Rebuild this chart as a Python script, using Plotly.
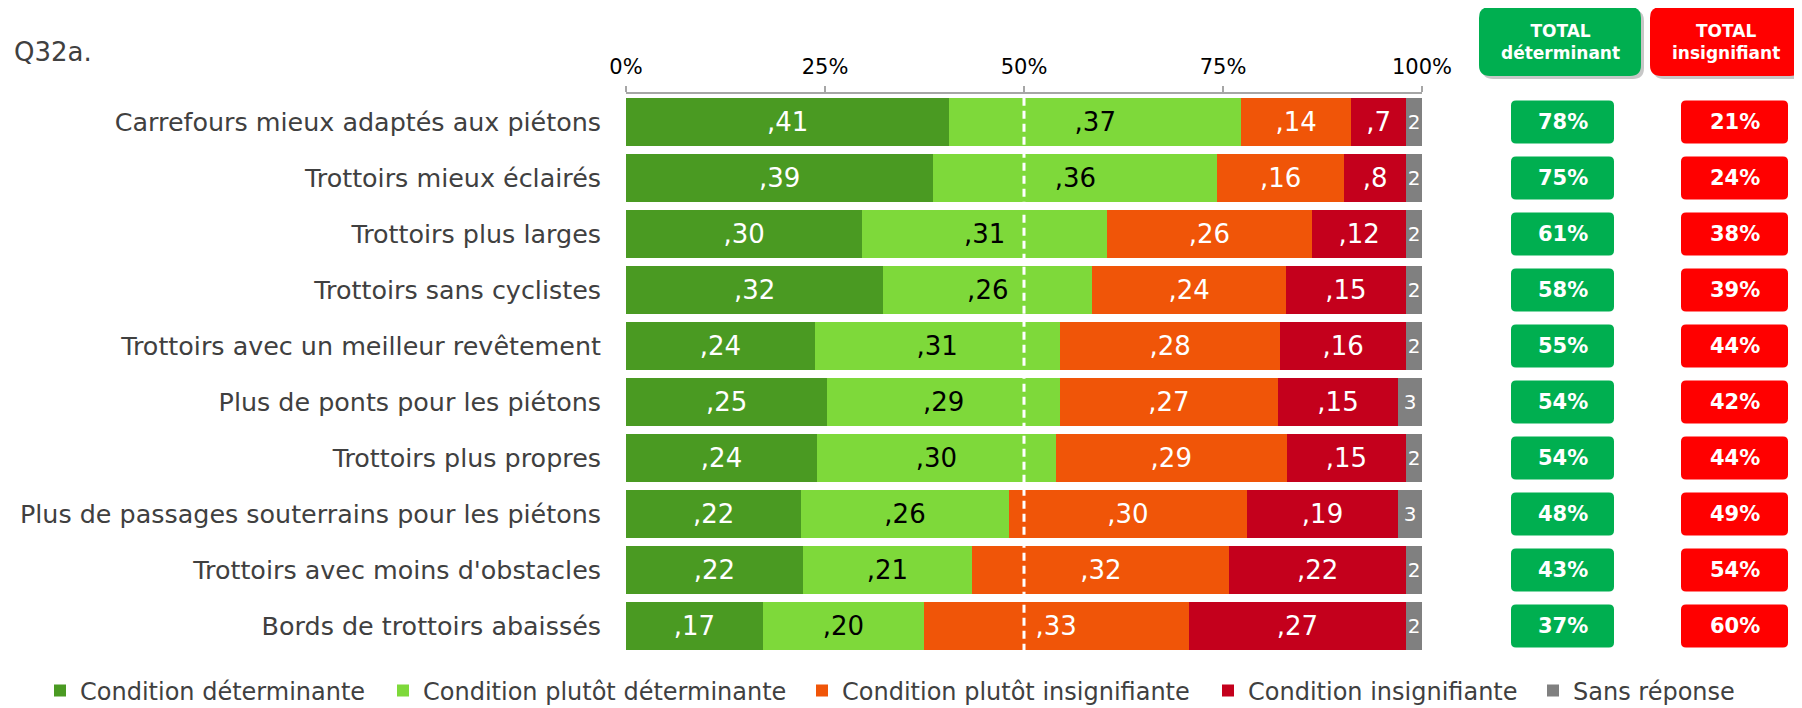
import plotly.graph_objects as go

categories = [
    "Carrefours mieux adaptés aux piétons",
    "Trottoirs mieux éclairés",
    "Trottoirs plus larges",
    "Trottoirs sans cyclistes",
    "Trottoirs avec un meilleur revêtement",
    "Plus de ponts pour les piétons",
    "Trottoirs plus propres",
    "Plus de passages souterrains pour les piétons",
    "Trottoirs avec moins d'obstacles",
    "Bords de trottoirs abaissés",
]
determinante = [40.6, 38.6, 29.7, 32.3, 23.7, 25.3, 24.0, 22.0, 22.2, 17.2]
plutot_determinante = [36.7, 35.7, 30.7, 26.3, 30.8, 29.2, 30.0, 26.1, 21.3, 20.2]
plutot_insignifiante = [13.8, 15.9, 25.8, 24.3, 27.7, 27.4, 29.0, 29.9, 32.3, 33.3]
insignifiante = [6.9, 7.8, 11.8, 15.1, 15.8, 15.1, 15.0, 19.0, 22.2, 27.3]
sans_reponse = [2.0, 2.0, 2.0, 2.0, 2.0, 3.0, 2.0, 3.0, 2.0, 2.0]
total_determinant = [78, 75, 61, 58, 55, 54, 54, 48, 43, 37]
total_insignifiant = [21, 24, 38, 39, 44, 42, 44, 49, 54, 60]
series_names = ["Condition déterminante", "Condition plutôt déterminante",
                "Condition plutôt insignifiante", "Condition insignifiante", "Sans réponse"]
tick_vals = [0, 25, 50, 75, 100]
tick_labels = ["0%", "25%", "50%", "75%", "100%"]

colors = ["#4A9A22", "#7ED93A", "#F05508", "#C4001C", "#808080"]
text_colors = ["white", "black", "white", "white", "white"]
templates = [",%{x:.0f}", ",%{x:.0f}", ",%{x:.0f}", ",%{x:.0f}", "%{x:.0f}"]
text_sizes = [26, 26, 26, 26, 20]
series = [determinante, plutot_determinante, plutot_insignifiante, insignifiante, sans_reponse]
legend_ids = ["legend", "legend2", "legend3", "legend4", "legend5"]
legend_left_px = [40, 383, 802, 1208, 1533]

FONT = "DejaVu Sans"
OFF = 8  # page body margin of the HTML page
W, H = 1802 - OFF, 708 - OFF
ML, MT = 626 - OFF, 94 - OFF
PW, PH = 796, 560
MR = W - ML - PW
MB = H - MT - PH


def px2paper(px):
    return (px - OFF - ML) / PW


def py2paper(py):
    return (MT + PH - (py - OFF)) / PH


fig = go.Figure()
for name, vals, col, tcol, tmpl, tsz, lid in zip(series_names, series, colors, text_colors,
                                                 templates, text_sizes, legend_ids):
    fig.add_trace(go.Bar(
        y=categories, x=vals, name=name, orientation="h", legend=lid,
        marker=dict(color=col, line=dict(width=0)),
        texttemplate=tmpl, textposition="inside", insidetextanchor="middle",
        textangle=0, constraintext="none",
        textfont=dict(family=FONT, size=tsz, color=tcol),
        hoverinfo="skip",
    ))


def rounded_rect(w, h, r):
    x0, x1, y0, y1 = -w / 2, w / 2, -h / 2, h / 2
    return (f"M{x0 + r},{y0} L{x1 - r},{y0} Q{x1},{y0} {x1},{y0 + r} "
            f"L{x1},{y1 - r} Q{x1},{y1} {x1 - r},{y1} L{x0 + r},{y1} "
            f"Q{x0},{y1} {x0},{y1 - r} L{x0},{y0 + r} Q{x0},{y0} {x0 + r},{y0} Z")


shapes = []
annotations = []

# dashed 50% line
shapes.append(dict(type="line", xref="x", yref="paper", x0=50, x1=50, y0=0.004, y1=0.996,
                   line=dict(color="white", width=3, dash="8px,5px"), layer="above"))

# header boxes
header_y = py2paper(41.5)
for cx, w, col, txt in [(1560, 162, "#00AF50", "<b>TOTAL</b><br><b>déterminant</b>"),
                        (1725.5, 151, "#FF0000", "<b>TOTAL</b><br><b>insignifiant</b>")]:
    shapes.append(dict(type="path", xref="paper", yref="paper", xsizemode="pixel", ysizemode="pixel",
                       xanchor=px2paper(cx + 3), yanchor=py2paper(44.5),
                       path=rounded_rect(w, 69, 11), fillcolor="rgba(0,0,0,0.22)", line=dict(width=0)))
    shapes.append(dict(type="path", xref="paper", yref="paper", xsizemode="pixel", ysizemode="pixel",
                       xanchor=px2paper(cx), yanchor=header_y,
                       path=rounded_rect(w, 69, 11), fillcolor=col, line=dict(width=0)))
    annotations.append(dict(xref="paper", yref="paper", x=px2paper(cx), y=header_y, text=txt,
                            showarrow=False, xanchor="center", yanchor="middle",
                            font=dict(family=FONT, size=17, color="white")))

# total value boxes
for cat, d, i_ in zip(categories, total_determinant, total_insignifiant):
    for cx, w, col, v in [(1562.5, 103, "#00AF50", d), (1734.5, 107, "#FF0000", i_)]:
        shapes.append(dict(type="path", xref="paper", yref="y", xsizemode="pixel", ysizemode="pixel",
                           xanchor=px2paper(cx), yanchor=cat,
                           path=rounded_rect(w, 43, 5), fillcolor=col, line=dict(width=0)))
        annotations.append(dict(xref="paper", yref="y", x=px2paper(cx), y=cat, text=f"<b>{v}%</b>",
                                showarrow=False, xanchor="center", yanchor="middle",
                                font=dict(family=FONT, size=21, color="white")))

annotations.append(dict(xref="paper", yref="paper", x=px2paper(12), y=py2paper(52), text="Q32a.",
                        showarrow=False, xanchor="left", yanchor="middle",
                        font=dict(family=FONT, size=26, color="#404040")))

legends = {}
for lid, lx in zip(legend_ids, legend_left_px):
    legends[lid] = dict(orientation="h", x=px2paper(lx), y=py2paper(691), xanchor="left",
                        yanchor="middle", font=dict(family=FONT, size=24, color="#404040"),
                        bgcolor="rgba(0,0,0,0)", borderwidth=0)

fig.update_layout(
    width=W, height=H,
    margin=dict(l=ML, r=MR, t=MT, b=MB, autoexpand=False),
    barmode="stack", bargap=0.16,
    plot_bgcolor="white", paper_bgcolor="white",
    font=dict(family=FONT, color="#404040"),
    showlegend=True,
    xaxis=dict(side="top", range=[0, 100], tickvals=tick_vals, ticktext=tick_labels,
               showgrid=False, zeroline=False, showline=True, linecolor="#A6A6A6", linewidth=1.5,
               ticks="outside", ticklen=6, tickcolor="#A6A6A6", tickwidth=1.5,
               tickfont=dict(family=FONT, size=21, color="black"), ticklabelstandoff=4,
               fixedrange=True),
    yaxis=dict(type="category", categoryorder="array", categoryarray=categories, autorange="reversed",
               showgrid=False, zeroline=False, showline=False, ticks="",
               tickfont=dict(family=FONT, size=25.4, color="#404040"), ticklabelstandoff=24,
               fixedrange=True),
    shapes=shapes, annotations=annotations,
    **legends,
)

fig.write_html("out.html")
